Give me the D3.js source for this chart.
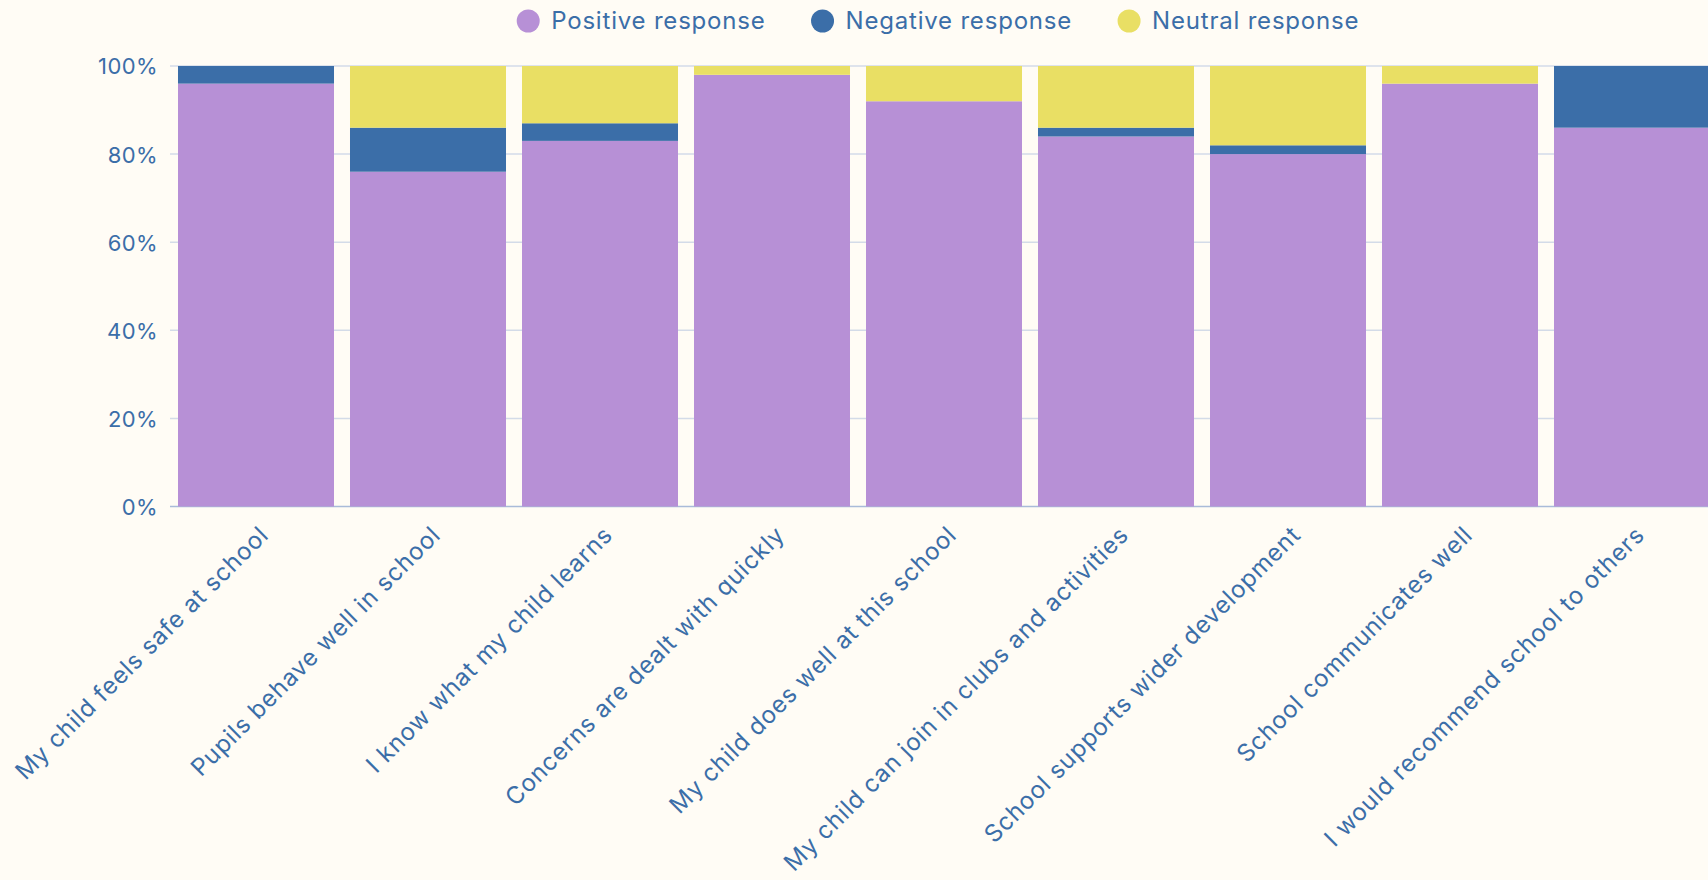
<!DOCTYPE html>
<html>
<head>
<meta charset="utf-8">
<script src="https://cdn.jsdelivr.net/npm/d3@7"></script>
<style>
  html, body { margin: 0; padding: 0; background: #fffcf5; overflow: hidden; }
  svg { display: block; }
  text { font-family: Inter, "Open Sans", sans-serif; fill: #3b6ea8; }
</style>
</head>
<body>
<svg id="chart" width="1708" height="880"></svg>
<script>
const categories = [
  "My child feels safe at school",
  "Pupils behave well in school",
  "I know what my child learns",
  "Concerns are dealt with quickly",
  "My child does well at this school",
  "My child can join in clubs and activities",
  "School supports wider development",
  "School communicates well",
  "I would recommend school to others"
];
const positive = [96, 76, 83, 98, 92, 84, 80, 96, 86];
const negative = [4, 10, 4, 0, 0, 2, 2, 0, 14];
const neutral  = [0, 14, 13, 2, 8, 14, 18, 4, 0];
const seriesNames = ["Positive response", "Negative response", "Neutral response"];
const seriesColors = ["#b790d6", "#3b6ea8", "#e9df64"];
const yTicks = [0, 20, 40, 60, 80, 100];

(function () {
const svg = d3.select("#chart");
const W = 1708;
const plotTop = 66, plotBottom = 506.5;
const FONT = "Inter, 'Open Sans', sans-serif";

const rows = categories.map((c, i) => ({ cat: c, s0: positive[i], s1: negative[i], s2: neutral[i] }));
const stacked = d3.stack().keys(["s0", "s1", "s2"])(rows);

const x = d3.scaleBand().domain(categories).range([170, 1718]).paddingInner(0.093).paddingOuter(0.0465);
const y = d3.scaleLinear().domain([0, 100]).range([plotBottom, plotTop]);

// gridlines
svg.append("g").selectAll("line").data(yTicks).join("line")
  .attr("x1", 170).attr("x2", W)
  .attr("y1", d => y(d)).attr("y2", d => y(d))
  .attr("stroke", d => d === 0 ? "#a9bbd9" : "#d3dbe8").attr("stroke-width", 1.5);

// bars
svg.append("g").selectAll("g").data(stacked).join("g")
  .attr("fill", (d, i) => seriesColors[i])
  .selectAll("rect").data(d => d).join("rect")
  .attr("x", d => x(d.data.cat))
  .attr("width", x.bandwidth())
  .attr("y", d => y(d[1]))
  .attr("height", d => y(d[0]) - y(d[1]));

// y axis
const yAxis = d3.axisLeft(y).tickValues(yTicks).tickFormat(d => d + "%").tickSize(0).tickPadding(0);
const gy = svg.append("g").attr("transform", "translate(158,0)").call(yAxis);
gy.select(".domain").remove();
gy.selectAll("text").attr("font-size", 22).attr("dy", "0.36em").style("fill", "#3b6ea8")
  .style("font-family", FONT).style("letter-spacing", "0.4px");

// x axis labels
const xAxis = d3.axisBottom(x).tickSize(0).tickPadding(0);
const gx = svg.append("g").attr("transform", `translate(0,${plotBottom})`).call(xAxis);
gx.select(".domain").remove();
gx.selectAll(".tick text")
  .attr("font-size", 24)
  .attr("text-anchor", "end")
  .attr("dy", 0)
  .attr("y", 0)
  .attr("transform", "translate(14,30) rotate(-45)")
  .style("fill", "#3b6ea8")
  .style("letter-spacing", "0.8px")
  .style("font-family", FONT);

// legend
const legend = svg.append("g");
const items = legend.selectAll("g").data(seriesNames).join("g");
items.append("circle").attr("r", 11.5).attr("cx", 0).attr("cy", 21).attr("fill", (d, i) => seriesColors[i]);
items.append("text").attr("x", 23).attr("y", 21).attr("dy", "0.35em").attr("font-size", 24)
  .style("letter-spacing", "0.8px").text(d => d);
const widths = [];
items.each(function () { widths.push(23 + this.querySelector("text").getComputedTextLength()); });
const gap = 57;
const total = d3.sum(widths) + gap * (widths.length - 1) + 11.5;
let cx = 938 - total / 2 + 11.5;
items.attr("transform", (d, i) => { const t = `translate(${cx},0)`; cx += widths[i] + gap; return t; });
})();
</script>
</body>
</html>
